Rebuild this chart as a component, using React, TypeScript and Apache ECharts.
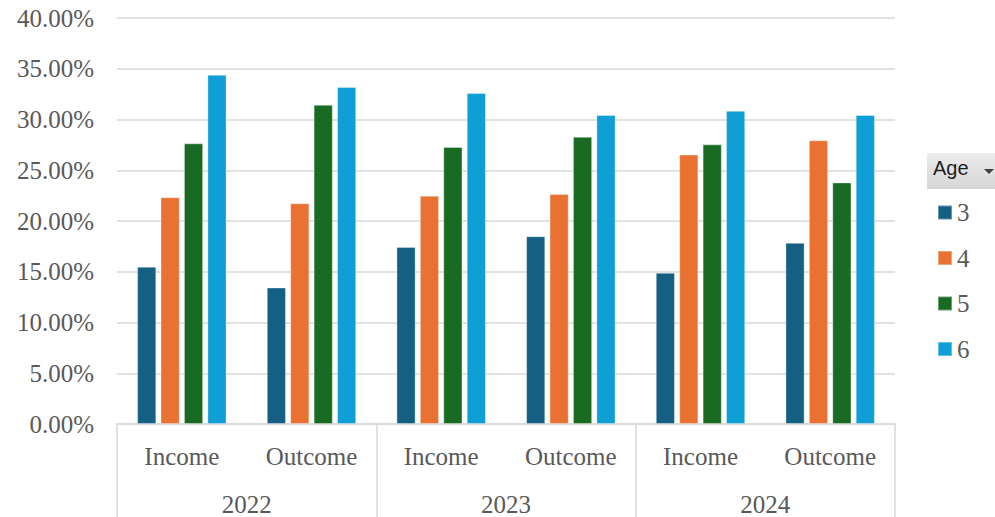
import React, { useEffect, useRef } from "react";
import * as echarts from "echarts";

// Share of each age group, in percent, per year and flow type
const years = ["2022", "2023", "2024"];
const categories = ["Income", "Outcome", "Income", "Outcome", "Income", "Outcome"];
const ages = ["3", "4", "5", "6"];
const age3 = [15.5, 13.45, 17.45, 18.5, 14.9, 17.85];
const age4 = [22.35, 21.75, 22.5, 22.65, 26.55, 27.95];
const age5 = [27.65, 31.45, 27.3, 28.3, 27.55, 23.8];
const age6 = [34.4, 33.2, 32.6, 30.45, 30.85, 30.45];
const seriesValues = [age3, age4, age5, age6];
const colors = ["#156082", "#E97132", "#196B24", "#0F9ED5"];
const yTicks = { min: 0, max: 40, interval: 5 };

const SERIF = "Liberation Serif";
const TEXT = "#595959";
const LINE = "#d9d9d9";

export default function App() {
  const ref = useRef<HTMLDivElement>(null);

  useEffect(() => {
    if (!ref.current) return;
    const chart = echarts.init(ref.current, null, { renderer: "svg" });

    const option: any = {
      animation: false,
      backgroundColor: "#ffffff",
      textStyle: { fontFamily: SERIF },
      grid: { left: 117, right: 100, top: 18, height: 406, containLabel: false },
      xAxis: [
        {
          type: "category",
          data: categories,
          position: "bottom",
          axisLine: { show: true, lineStyle: { color: LINE, width: 1.5 } },
          axisTick: { show: false },
          axisLabel: {
            interval: 0,
            margin: 20,
            color: TEXT,
            fontFamily: SERIF,
            fontSize: 25,
          },
        },
        {
          type: "category",
          data: years,
          position: "bottom",
          axisLine: { show: false },
          axisTick: {
            show: true,
            interval: 0,
            length: 95,
            lineStyle: { color: LINE, width: 1.5 },
          },
          axisLabel: {
            interval: 0,
            margin: 68,
            color: TEXT,
            fontFamily: SERIF,
            fontSize: 25,
          },
        },
      ],
      yAxis: {
        type: "value",
        min: yTicks.min,
        max: yTicks.max,
        interval: yTicks.interval,
        axisLine: { show: false },
        axisTick: { show: false },
        splitLine: { lineStyle: { color: LINE, width: 1.5 } },
        axisLabel: {
          margin: 23,
          color: TEXT,
          fontFamily: SERIF,
          fontSize: 25,
          formatter: (v: number) => v.toFixed(2) + "%",
        },
      },
      legend: {
        orient: "vertical",
        left: 937,
        top: 200,
        padding: 0,
        icon: "rect",
        itemWidth: 14,
        itemHeight: 14,
        itemGap: 20.5,
        data: ages,
        textStyle: { color: TEXT, fontFamily: SERIF, fontSize: 25 },
        selectedMode: false,
      },
      series: ages.map((a, i) => ({
        name: a,
        type: "bar",
        xAxisIndex: 0,
        data: seriesValues[i],
        barCategoryGap: "31%",
        barGap: "22%",
        itemStyle: {
          color: colors[i],
          borderColor: "rgba(255,255,255,0.35)",
          borderWidth: 1,
        },
      })),
      graphic: [
        {
          type: "rect",
          left: 927,
          top: 153,
          shape: { width: 70, height: 36 },
          style: {
            fill: new echarts.graphic.LinearGradient(0, 0, 0, 1, [
              { offset: 0, color: "#ececec" },
              { offset: 1, color: "#d6d6d6" },
            ]),
          },
        },
        {
          type: "text",
          left: 933,
          top: 158,
          style: {
            text: "Age",
            fill: "#1e1e1e",
            font: "20px 'Liberation Sans', Arial, sans-serif",
          },
        },
        {
          type: "polygon",
          shape: { points: [[984, 169], [994, 169], [989, 174]] },
          style: { fill: "#404040" },
        },
      ],
    };

    chart.setOption(option);
    return () => chart.dispose();
  }, []);

  return (
    <div
      ref={ref}
      style={{ position: "fixed", left: 0, top: 0, width: 995, height: 517 }}
    />
  );
}
